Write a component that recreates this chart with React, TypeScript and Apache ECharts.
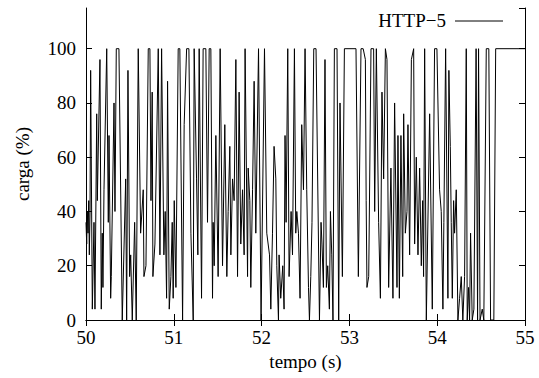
import React, { useEffect, useRef } from "react";
import * as echarts from "echarts";

const tempo = [
  50.000, 50.008, 50.015, 50.023, 50.031, 50.038, 50.046, 50.053, 50.072, 50.091,
  50.102, 50.122, 50.129, 50.159, 50.174, 50.185, 50.193, 50.205, 50.236, 50.254,
  50.262, 50.281, 50.288, 50.319, 50.330, 50.345, 50.375, 50.413, 50.452, 50.463,
  50.478, 50.497, 50.509, 50.527, 50.554, 50.572, 50.595, 50.622, 50.652, 50.660,
  50.683, 50.709, 50.728, 50.740, 50.754, 50.762, 50.785, 50.823, 50.842, 50.861,
  50.887, 50.902, 50.918, 50.929, 50.948, 50.967, 50.982, 50.993, 51.005, 51.024,
  51.050, 51.069, 51.100, 51.118, 51.146, 51.172, 51.195, 51.221, 51.232, 51.259,
  51.274, 51.289, 51.316, 51.334, 51.365, 51.384, 51.403, 51.422, 51.441, 51.448,
  51.460, 51.479, 51.505, 51.528, 51.555, 51.581, 51.604, 51.619, 51.638, 51.650,
  51.669, 51.687, 51.707, 51.726, 51.744, 51.763, 51.783, 51.801, 51.812, 51.840,
  51.847, 51.866, 51.877, 51.897, 51.915, 51.934, 51.965, 51.994, 52.033, 52.059,
  52.090, 52.105, 52.124, 52.142, 52.162, 52.173, 52.192, 52.199, 52.218, 52.241,
  52.256, 52.267, 52.279, 52.298, 52.313, 52.336, 52.352, 52.374, 52.389, 52.401,
  52.420, 52.438, 52.457, 52.477, 52.495, 52.514, 52.534, 52.545, 52.560, 52.574,
  52.594, 52.620, 52.659, 52.677, 52.688, 52.704, 52.722, 52.738, 52.753, 52.772,
  52.784, 52.799, 52.813, 52.829, 52.859, 52.878, 52.893, 52.920, 52.943, 53.075,
  53.102, 53.132, 53.157, 53.182, 53.191, 53.200, 53.220, 53.246, 53.276, 53.288,
  53.307, 53.333, 53.353, 53.371, 53.390, 53.410, 53.428, 53.447, 53.473, 53.496,
  53.515, 53.542, 53.553, 53.569, 53.587, 53.607, 53.618, 53.637, 53.656, 53.667,
  53.686, 53.706, 53.732, 53.743, 53.762, 53.781, 53.800, 53.819, 53.834, 53.845,
  53.857, 53.876, 53.914, 53.944, 53.970, 53.997, 54.027, 54.046, 54.065, 54.076,
  54.096, 54.122, 54.133, 54.149, 54.160, 54.172, 54.187, 54.198, 54.217, 54.236,
  54.255, 54.274, 54.292, 54.312, 54.331, 54.342, 54.357, 54.369, 54.380, 54.399,
  54.418, 54.443, 54.460, 54.471, 54.488, 54.513, 54.531, 54.559, 54.588, 54.608,
  54.645, 54.666, 55.000,
];

const carga = [
  36, 28, 40, 32, 44, 24, 40, 92, 4, 36,
  4, 76, 44, 96, 4, 32, 12, 48, 100, 36,
  68, 8, 16, 80, 40, 100, 100, 0, 52, 0,
  92, 16, 24, 0, 36, 0, 100, 32, 48, 16,
  20, 100, 100, 44, 84, 16, 28, 100, 24, 100,
  24, 40, 8, 88, 4, 16, 36, 8, 44, 12,
  100, 100, 0, 72, 100, 100, 32, 0, 100, 52,
  24, 100, 8, 100, 100, 36, 100, 100, 8, 36,
  20, 68, 16, 100, 20, 72, 16, 40, 64, 24,
  52, 44, 96, 16, 84, 28, 48, 24, 100, 16,
  56, 44, 12, 48, 88, 32, 100, 0, 100, 32,
  24, 4, 32, 64, 52, 20, 0, 24, 8, 20,
  4, 68, 36, 100, 16, 40, 24, 100, 32, 40,
  32, 8, 72, 48, 100, 48, 12, 0, 16, 36,
  100, 100, 0, 36, 28, 12, 96, 12, 20, 4,
  40, 24, 0, 100, 100, 0, 80, 16, 100, 100,
  16, 100, 100, 96, 44, 12, 16, 100, 100, 40,
  100, 36, 8, 84, 52, 100, 96, 12, 56, 8,
  80, 12, 68, 8, 68, 16, 76, 32, 40, 72,
  24, 96, 100, 28, 60, 24, 56, 20, 44, 16,
  100, 0, 76, 4, 100, 100, 48, 40, 4, 36,
  100, 8, 92, 64, 36, 8, 44, 32, 48, 0,
  8, 16, 0, 16, 100, 0, 12, 0, 32, 0,
  4, 100, 0, 100, 0, 4, 0, 100, 100, 0,
  0, 100, 100,
];

const seriesName = "HTTP\u22125";
const xName = "tempo (s)";
const yName = "carga (%)";

const FONT = "Liberation Serif";

export default function App() {
  const ref = useRef<HTMLDivElement>(null);

  useEffect(() => {
    document.body.style.margin = "0";
    const chart = echarts.init(ref.current!, null, { renderer: "svg" });
    const line = { show: true, lineStyle: { color: "#000", width: 1 } };
    const tick = { show: true, inside: true, length: 6, lineStyle: { color: "#000", width: 1 } };
    const label = { color: "#000", fontSize: 19, fontFamily: FONT };
    const data = tempo.map((t, i) => [t, carga[i]]);

    chart.setOption({
      animation: false,
      backgroundColor: "#fff",
      grid: { left: 86, right: 14, top: 8, bottom: 58, containLabel: false },
      xAxis: [
        {
          type: "value", position: "bottom", min: 50, max: 55, interval: 1,
          axisLine: line, axisTick: tick, splitLine: { show: false },
          axisLabel: { ...label, margin: 8 },
          name: xName, nameLocation: "middle", nameGap: 31,
          nameTextStyle: { color: "#000", fontSize: 19, fontFamily: FONT },
        },
        {
          type: "value", position: "top", min: 50, max: 55, interval: 1,
          axisLine: line, axisTick: tick, splitLine: { show: false },
          axisLabel: { show: false },
        },
      ],
      yAxis: [
        {
          type: "value", position: "left", min: 0, max: 115, interval: 20,
          axisLine: line, axisTick: tick, splitLine: { show: false },
          axisLabel: { ...label, margin: 10, showMaxLabel: false },
          name: yName, nameLocation: "middle", nameGap: 54, nameRotate: 90,
          nameTextStyle: { color: "#000", fontSize: 19, fontFamily: FONT },
        },
        {
          type: "value", position: "right", min: 0, max: 115, interval: 20,
          axisLine: line, axisTick: tick, splitLine: { show: false },
          axisLabel: { show: false },
        },
      ],
      series: [
        {
          name: seriesName,
          type: "line",
          xAxisIndex: 0,
          yAxisIndex: 0,
          data,
          showSymbol: false,
          symbol: "none",
          lineStyle: { color: "#000", width: 1 },
          emphasis: { disabled: true },
        },
      ],
      graphic: [
        {
          type: "text",
          x: 446,
          y: 20,
          style: {
            text: seriesName,
            fill: "#000",
            font: `19px "${FONT}"`,
            textAlign: "right",
            textVerticalAlign: "middle",
          },
        },
        {
          type: "line",
          shape: { x1: 455, y1: 21, x2: 503, y2: 21 },
          style: { stroke: "#000", lineWidth: 1 },
        },
      ],
    });
    return () => chart.dispose();
  }, []);

  return (
    <div
      ref={ref}
      style={{ position: "fixed", left: 0, top: 0, width: 539, height: 378, background: "#fff" }}
    />
  );
}
